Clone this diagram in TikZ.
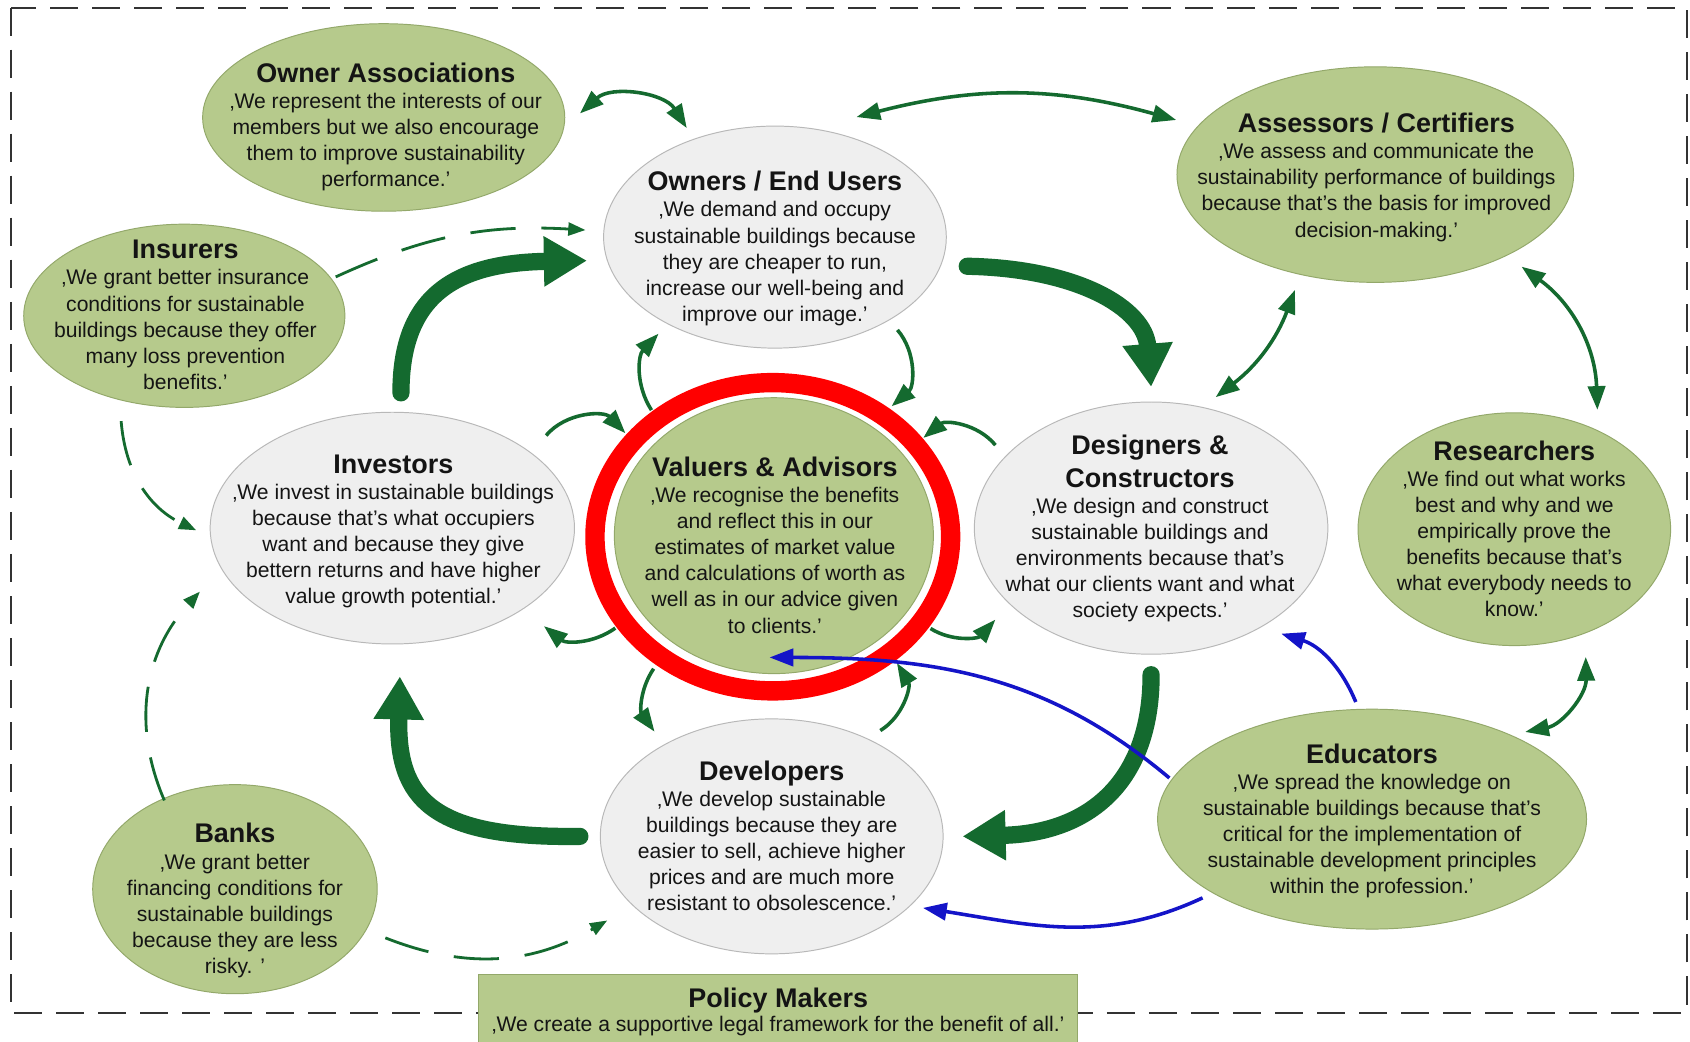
\documentclass[tikz,border=0pt]{standalone}
\usepackage{fontspec}
\setmainfont{Liberation Sans}
\usetikzlibrary{shapes.geometric,arrows.meta}
\definecolor{gfill}{HTML}{B6CA8C}
\definecolor{gline}{HTML}{93A86A}
\definecolor{wfill}{HTML}{EFEFEF}
\definecolor{wline}{HTML}{B8B8B8}
\definecolor{dkg}{HTML}{146A2F}
\definecolor{blu}{HTML}{1414C8}
\newcommand{\acttitle}[1]{{\fontsize{25}{24.2}\selectfont\bfseries #1}}
\begin{document}
\begin{tikzpicture}[x=1pt,y=1pt,
  actor/.style={ellipse, line width=0.9pt, inner sep=0pt, outer sep=0pt},
  greenact/.style={actor, fill=gfill, draw=gline},
  greyact/.style={actor, fill=wfill, draw=wline},
  txt/.style={anchor=north, align=center, inner sep=0pt, outer sep=0pt, text=black!92,
              font=\fontsize{19.6}{24.2}\selectfont},
  link/.style={draw=dkg, line width=3.3pt},
  both/.style={link, {Triangle[length=22pt,width=16pt]}-{Triangle[length=22pt,width=16pt]}},
  one/.style={link, -{Triangle[length=22pt,width=16pt]}},
  dashlink/.style={draw=dkg, line width=2.6pt, dash pattern=on 42pt off 24pt, -{Triangle[length=16pt,width=12pt]}},
  bigarrow/.style={draw=dkg, line width=16pt, line cap=round, -{Triangle[length=40pt,width=44pt]}},
  bluelink/.style={draw=blu, line width=3.3pt, -{Triangle[length=22pt,width=16pt]}},
  framestyle/.style={draw=black!80, line width=1.8pt, dash pattern=on 26pt off 13pt}
]
\useasboundingbox (0,0) rectangle (1568,966);
\fill[white] (0,0) rectangle (1568,966);

% frame
\draw[framestyle] (10,959) rectangle (1565,26);

% policy makers box
\node[rectangle, fill=gfill, draw=gline, line width=0.9pt, inner sep=0pt,
      minimum width=556pt, minimum height=65pt] (pol) at (722,29) {};

% actors
\node[greenact, minimum width=336pt, minimum height=174pt] (oa) at (356,857) {};
\node[greenact, minimum width=298pt, minimum height=170pt] (ins) at (171,673) {};
\node[greyact, minimum width=318pt, minimum height=206pt] (own) at (719,746) {};
\node[greenact, minimum width=368pt, minimum height=200pt] (ass) at (1276,804) {};
\node[greyact, minimum width=338pt, minimum height=215pt] (inv) at (364,476) {};
\node[greenact, minimum width=296pt, minimum height=256pt] (val) at (718,469) {};
\node[ellipse, draw=red, line width=18pt, inner sep=0pt, outer sep=9pt,
      minimum width=330pt, minimum height=286pt] (ring) at (717,468) {};
\node[greyact, minimum width=328pt, minimum height=234pt] (des) at (1068,476) {};
\node[greenact, minimum width=290pt, minimum height=216pt] (res) at (1405,475) {};
\node[greyact, minimum width=318pt, minimum height=218pt] (dev) at (716,190) {};
\node[greenact, minimum width=398pt, minimum height=204pt] (edu) at (1273,206) {};
\node[greenact, minimum width=264pt, minimum height=194pt] (bank) at (218,141) {};

% thick flow arrows
\draw[bigarrow] ([shift={(8,18)}]inv.north) .. controls (372,690) and (420,722) .. ([xshift=-19pt]own.188);
\draw[bigarrow] ([xshift=25pt]own.350) .. controls (1000,717) and (1062,680) .. ([yshift=14pt]des.north);
\draw[bigarrow] ([yshift=-19pt]des.south) .. controls (1068,240) and (1010,193) .. ([xshift=18pt]dev.east);
\draw[bigarrow] ([xshift=-19pt]dev.west) .. controls (400,188) and (368,225) .. ([shift={(7,-30)}]inv.south);

% thin two-way links
\draw[both] ([shift={(15,-5)}]oa.3) to[bend left=50] ([shift={(-8,10)}]own.129);
\draw[both] ([shift={(12,17)}]own.56) to[bend left=15] ([shift={(-22,4)}]ass.164);
\draw[both] ([shift={(6,11)}]des.64) to[bend right=16] ([shift={(-7,-14)}]ass.234);
\draw[both] ([shift={(15,-10)}]ass.328) to[bend left=26] ([shift={(10,15)}]res.55);
\draw[both] ([shift={(7,-20)}]res.301) to[bend left=40] ([shift={(7,6)}]edu.29);

% links around valuers
\draw[one] ([shift={(-5,-2)}]ring.132) to[bend left=38] ([shift={(-13,-7)}]own.221);
\draw[one] ([shift={(10,-8)}]own.323) to[bend left=45] ([shift={(5,0)}]ring.49);
\draw[one] ([shift={(13,17)}]inv.28) to[bend left=48] ([shift={(-1,1)}]ring.145);
\draw[one] ([shift={(-1,-1)}]ring.210) to[bend left=37] ([shift={(11,-22)}]inv.332);
\draw[one] ([shift={(-11,9)}]des.153) to[bend right=45] ([shift={(0,1)}]ring.33);
\draw[one] ([shift={(3,1)}]ring.329) to[bend right=40] ([shift={(-13,-15)}]des.208);
\draw[one] ([shift={(-3,-3)}]ring.228) to[bend right=35] ([shift={(-6,14)}]dev.141);
\draw[one] ([shift={(-2,15)}]dev.39) to[bend right=45] ([shift={(3,-1)}]ring.314);

% dashed links
\draw[dashlink] ([shift={(11,-6)}]ins.18) to[bend left=14] ([shift={(-17,1)}]own.178);
\draw[dashlink] ([shift={(-12,-17)}]ins.240) to[bend right=30] ([shift={(-13,-2)}]inv.west);
\draw[dashlink] ([shift={(2,-1)}]bank.129) to[bend left=33] ([shift={(-28,-10)}]inv.198);
\draw[dashlink] ([shift={(20,-4)}]bank.341) to[bend right=26] ([shift={(-25,-13)}]dev.207);

% blue links from educators
\draw[bluelink] ([shift={(-2,2)}]edu.169) to[out=140,in=0] ([shift={(-4,15)}]val.south);
\draw[bluelink] ([shift={(1,7)}]edu.99) to[bend right=25] ([shift={(8,-13)}]des.323);
\draw[bluelink] ([shift={(-4,-8)}]edu.203) to[out=205,in=-9] ([shift={(7,-7)}]dev.336);

% texts
\node[txt] (oaT) at (358,908) {\acttitle{Owner Associations}\\‚We represent the interests of our\\members but we also encourage\\them to improve sustainability\\performance.’};
\node[txt] (insT) at (172,743) {\acttitle{Insurers}\\‚We grant better insurance\\conditions for sustainable\\buildings because they offer\\many loss prevention\\benefits.’};
\node[txt] (ownT) at (719,807) {\acttitle{Owners / End Users}\\‚We demand and occupy\\sustainable buildings because\\they are cheaper to run,\\increase our well-being and\\improve our image.’};
\node[txt] (assT) at (1277,861) {\acttitle{Assessors / Certifiers}\\‚We assess and communicate the\\sustainability performance of buildings\\because that’s the basis for improved\\decision-making.’};
\node[txt] (invT) at (365,544) {\acttitle{Investors}\\‚We invest in sustainable buildings\\because that’s what occupiers\\want and because they give\\bettern returns and have higher\\value growth potential.’};
\node[txt] (valT) at (719,542) {\acttitle{Valuers \& Advisors}\\‚We recognise the benefits\\and reflect this in our\\estimates of market value\\and calculations of worth as\\well as in our advice given\\to clients.’};
\node[txt] (desT) at (1067,562) {\acttitle{Designers \&}\\[5.8pt]\acttitle{Constructors}\\‚We design and construct\\sustainable buildings and\\environments because that’s\\what our clients want and what\\society expects.’};
\node[txt] (resT) at (1405,557) {\acttitle{Researchers}\\‚We find out what works\\best and why and we\\empirically prove the\\benefits because that’s\\what everybody needs to\\know.’};
\node[txt] (devT) at (716,260) {\acttitle{Developers}\\‚We develop sustainable\\buildings because they are\\easier to sell, achieve higher\\prices and are much more\\resistant to obsolescence.’};
\node[txt] (eduT) at (1273,276) {\acttitle{Educators}\\‚We spread the knowledge on\\sustainable buildings because that’s\\critical for the implementation of\\sustainable development principles\\within the profession.’};
\node[txt] (bankT) at (218,202) {\acttitle{Banks}\\‚We grant better\\financing conditions for\\sustainable buildings\\because they are less\\risky. ’};
\node[txt] (polT) at (722,49) {\acttitle{Policy Makers}\\[-2pt]‚We create a supportive legal framework for the benefit of all.’};
\end{tikzpicture}
\end{document}
